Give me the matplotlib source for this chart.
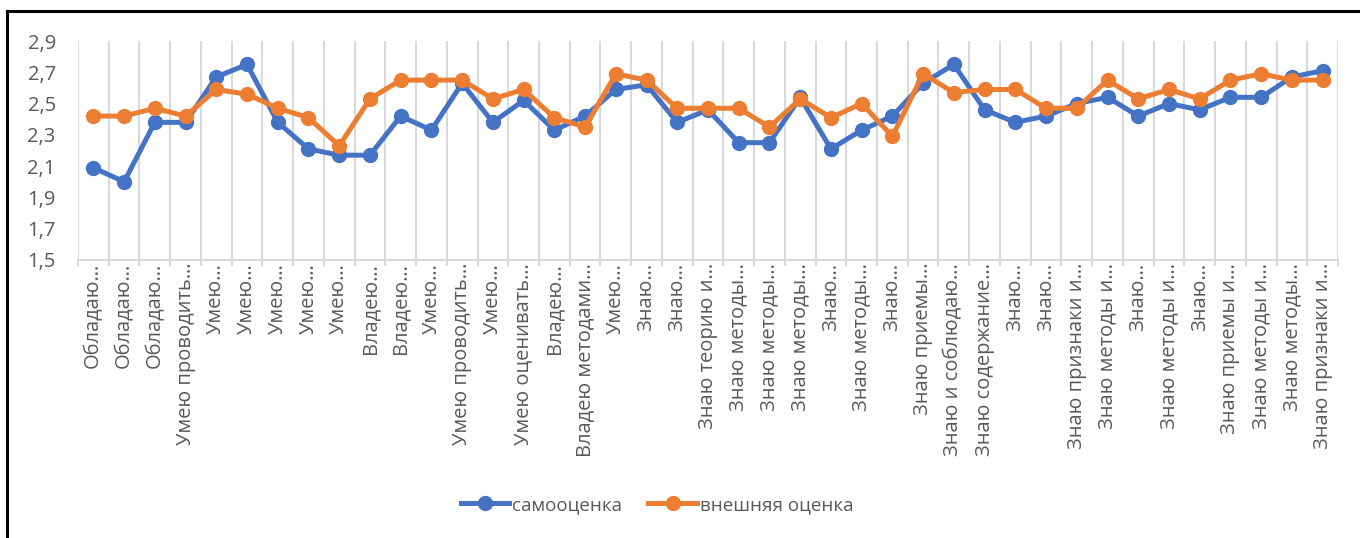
import matplotlib
matplotlib.use("Agg")
import matplotlib.pyplot as plt
from matplotlib.lines import Line2D
from matplotlib.ticker import FuncFormatter, FixedLocator

categories = ["Обладаю…", "Обладаю…", "Обладаю…", "Умею проводить…", "Умею…", "Умею…",
              "Умею…", "Умею…", "Умею…", "Владею…", "Владею…", "Умею…", "Умею проводить…",
              "Умею…", "Умею оценивать…", "Владею…", "Владею методами…", "Умею…", "Знаю…",
              "Знаю…", "Знаю теорию и…", "Знаю методы…", "Знаю методы…", "Знаю методы…",
              "Знаю…", "Знаю методы…", "Знаю…", "Знаю приемы…", "Знаю и соблюдаю…",
              "Знаю содержание…", "Знаю…", "Знаю…", "Знаю признаки и…", "Знаю методы и…",
              "Знаю…", "Знаю методы и…", "Знаю…", "Знаю приемы и…", "Знаю методы и…",
              "Знаю методы…", "Знаю признаки и…"]

self_score = [2.09, 2.00, 2.38, 2.38, 2.67, 2.75, 2.38, 2.21, 2.17, 2.17, 2.42, 2.33, 2.63,
              2.38, 2.52, 2.33, 2.42, 2.59, 2.62, 2.38, 2.46, 2.25, 2.25, 2.54, 2.21, 2.33,
              2.42, 2.63, 2.75, 2.46, 2.38, 2.42, 2.50, 2.54, 2.42, 2.50, 2.46, 2.54, 2.54,
              2.67, 2.71]

external_score = [2.42, 2.42, 2.47, 2.42, 2.59, 2.56, 2.47, 2.41, 2.23, 2.53, 2.65, 2.65, 2.65,
                  2.53, 2.59, 2.41, 2.35, 2.69, 2.65, 2.47, 2.47, 2.47, 2.35, 2.53, 2.41, 2.50,
                  2.29, 2.69, 2.57, 2.59, 2.59, 2.47, 2.47, 2.65, 2.53, 2.59, 2.53, 2.65, 2.69,
                  2.65, 2.65]

series_names = ["самооценка", "внешняя оценка"]
y_ticks = [1.5, 1.7, 1.9, 2.1, 2.3, 2.5, 2.7, 2.9]

BLUE = "#4472C4"
ORANGE = "#ED7D31"
TXT = "#595959"
GRID = "#D9D9D9"

plt.rcParams['font.family'] = ['Open Sans', 'DejaVu Sans']

W, H = 1360, 538
fig = plt.figure(figsize=(W / 100, H / 100), dpi=100)
ax = fig.add_axes([78 / W, 1 - 260 / H, (1338 - 78) / W, (260 - 41) / H])

x = list(range(len(categories)))
ax.plot(x, self_score, color=BLUE, lw=3.6, marker='o', ms=10, solid_capstyle='round',
        zorder=3, label=series_names[0])
ax.plot(x, external_score, color=ORANGE, lw=3.6, marker='o', ms=10, solid_capstyle='round',
        zorder=4, label=series_names[1])

ax.set_xlim(-0.5, len(categories) - 0.5)
ax.set_ylim(1.5, 2.9)
ax.set_yticks(y_ticks)
ax.yaxis.set_major_formatter(FuncFormatter(lambda v, p: f"{v:.1f}".replace('.', ',')))
ax.set_xticks(x)
ax.set_xticklabels(categories, rotation=90, ha='center', va='top')
ax.xaxis.set_minor_locator(FixedLocator([i - 0.5 for i in range(len(categories) + 1)]))
ax.grid(False)
ax.grid(True, which='minor', axis='x', color=GRID, lw=1.5, zorder=0)
ax.tick_params(axis='x', which='major', length=0, pad=2, labelsize=14.5, labelcolor=TXT)
ax.tick_params(axis='x', which='minor', length=4, color=GRID, width=1.5)
ax.tick_params(axis='y', length=0, pad=16, labelsize=14.5, labelcolor=TXT)
for s in ['top', 'left', 'right']:
    ax.spines[s].set_visible(False)
ax.spines['bottom'].set_color(GRID)
ax.spines['bottom'].set_linewidth(1.5)

handles = [Line2D([], [], color=BLUE, lw=3.6, marker='o', ms=10),
           Line2D([], [], color=ORANGE, lw=3.6, marker='o', ms=10)]
leg = fig.legend(handles, series_names, loc='center', bbox_to_anchor=(657 / W, 1 - 505 / H),
                 ncol=2, frameon=False, fontsize=13.5, handlelength=2.6, handletextpad=0.15,
                 columnspacing=1.4)
for t in leg.get_texts():
    t.set_color(TXT)

# outer frame (top and left edges visible)
fig.add_artist(Line2D([7 / W, 1], [1 - 11 / H, 1 - 11 / H], color='black', lw=2.2,
                      transform=fig.transFigure))
fig.add_artist(Line2D([7 / W, 7 / W], [0, 1 - 11 / H], color='black', lw=2.2,
                      transform=fig.transFigure))

fig.savefig("out.png", dpi=100)
